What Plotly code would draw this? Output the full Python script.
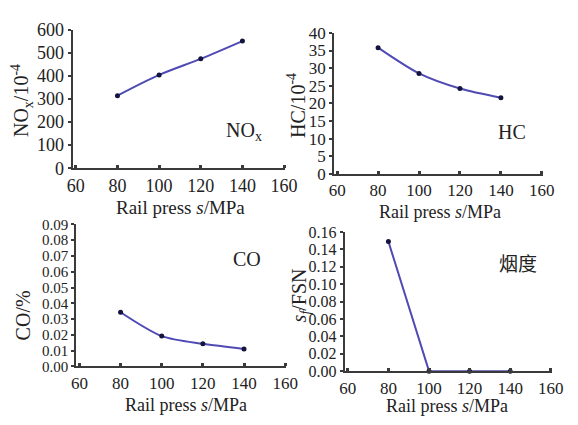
import plotly.graph_objects as go

pressure = [80, 100, 120, 140]
nox = [315, 405, 475, 552]
hc = [35.8, 28.5, 24.2, 21.6]
co = [0.0343, 0.0192, 0.0143, 0.0111]
smoke = [0.149, 0.0, 0.0, 0.0]

x_ticks = [60, 80, 100, 120, 140, 160]
W, H = 578, 425
LINE = "#4f4ab4"
MARK = "#14143c"
FONT = "Liberation Serif"
AX = "#3a3a3a"

fig = go.Figure()

panels = [
    (nox, "spline", (68.8, 288.1), (166, 21), [0, 600], 100, "d", 18, 18),
    (hc, "spline", (338.6, 554.1), (172, 24), [0, 40], 5, "d", 17, 17),
    (co, "spline", (72.6, 289.2), (374, 225), [0, 0.09], 0.01, ".2f", 15, 17),
    (smoke, "linear", (349.7, 563.3), (379, 233), [0, 0.16], 0.02, ".2f", 16, 17),
]

for i, (vals, shape, xp, yp, yr, dt, fmt, fs, xfs) in enumerate(panels):
    n = "" if i == 0 else str(i + 1)
    fig.add_trace(go.Scatter(
        x=pressure, y=vals, mode="lines+markers",
        line=dict(color=LINE, width=2, shape=shape, smoothing=0.8),
        marker=dict(color=MARK, size=5),
        xaxis="x" + n, yaxis="y" + n, cliponaxis=False, showlegend=False))
    fig.layout["xaxis" + n] = dict(
        domain=[xp[0] / W, xp[1] / W], range=[58.5, 160.5],
        tickvals=x_ticks, ticks="inside", ticklen=3, tickwidth=3, tickcolor=AX,
        showline=True, linewidth=2, linecolor=AX, showgrid=False, zeroline=False,
        anchor="y" + n, tickfont=dict(family=FONT, size=xfs, color="#222"))
    fig.layout["yaxis" + n] = dict(
        domain=[1 - yp[0] / H, 1 - yp[1] / H], range=yr, dtick=dt, tickformat=fmt,
        ticks="outside", ticklen=3, tickwidth=2, tickcolor=AX,
        showline=True, linewidth=2, linecolor=AX, showgrid=False, zeroline=False,
        anchor="x" + n, tickfont=dict(family=FONT, size=fs, color="#222"))

anns = [
    ("NO<sub>x</sub>/10<sup>-4</sup>", 16, 95, -90, 20),
    ("HC/10<sup>-4</sup>", 300, 100, -90, 20),
    ("CO/%", 18, 320, -90, 20),
    ("<i>s<sub>f</sub></i>/FSN", 304, 300, -90, 20),
    ("Rail press <i>s</i>/MPa", 180, 207, 0, 19),
    ("Rail press <i>s</i>/MPa", 448, 212, 0, 18),
    ("Rail press <i>s</i>/MPa", 186, 415, 0, 18),
    ("Rail press <i>s</i>/MPa", 455, 416, 0, 18),
    ("NO<sub>x</sub>", 246, 127, 0, 20),
    ("HC", 522, 128, 0, 20),
    ("CO", 249, 261, 0, 20),
    ("烟度", 528, 265, 0, 19),
]
for t, x, y, a, s in anns:
    fig.add_annotation(
        text=t, x=x / W, y=1 - y / H, xref="paper", yref="paper",
        showarrow=False, textangle=a, xanchor="center", yanchor="middle",
        font=dict(family=FONT if t != "烟度" else "Noto Sans CJK SC",
                  size=s, color="#222"))

fig.update_layout(width=W, height=H, margin=dict(l=0, r=0, t=0, b=0),
                  plot_bgcolor="white", paper_bgcolor="white")
fig.write_html("out.html")
